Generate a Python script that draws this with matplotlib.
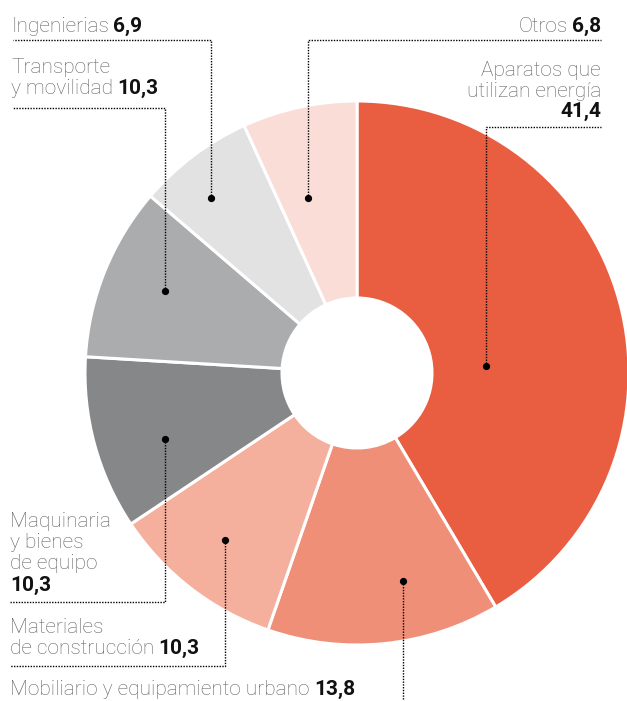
import matplotlib
matplotlib.use("Agg")
import matplotlib.pyplot as plt

# ---- data ----
categories = ["Aparatos que utilizan energía", "Mobiliario y equipamiento urbano",
              "Materiales de construcción", "Maquinaria y bienes de equipo",
              "Transporte y movilidad", "Ingenierias", "Otros"]
values = [41.4, 13.8, 10.3, 10.3, 10.3, 6.9, 6.8]
value_labels = ["41,4", "13,8", "10,3", "10,3", "10,3", "6,9", "6,8"]
colors = ["#E95E41", "#EF8F78", "#F4AF9D", "#868789", "#ABACAE", "#E1E2E1", "#FADDD6"]

W, H = 627, 701
fig = plt.figure(figsize=(W / 100, H / 100), dpi=100)
ax = fig.add_axes([0, 0, 1, 1])

def Y(y):
    return H - y

cx, cy, R, r_in = 357, 373, 272, 75
ax.pie(values, colors=colors, startangle=90, counterclock=False,
       radius=R, center=(cx, Y(cy)),
       wedgeprops=dict(width=R - r_in, edgecolor="white", linewidth=2.2))
ax.set_xlim(0, W)
ax.set_ylim(0, H)
ax.set_aspect("equal")
ax.axis("off")

FONT = "Roboto"
FS = 15
GRAY = "#616264"
BLACK = "#111111"

fig.canvas.draw()
renderer = fig.canvas.get_renderer()

def line_of(segments, x, y, align="left"):
    """segments: list of (text, bold). Draw on baseline y (pixel)."""
    objs = []
    for s, bold in segments:
        t = ax.text(0, Y(y), s, fontsize=FS, family=FONT,
                    fontweight="bold" if bold else "light",
                    color=BLACK if bold else GRAY, va="baseline", ha="left")
        objs.append(t)
    widths = [t.get_window_extent(renderer).width for t in objs]
    space = 4.5
    total = sum(widths) + space * (len(widths) - 1)
    start = x if align == "left" else x - total
    cur = start
    for t, w in zip(objs, widths):
        t.set_x(cur)
        cur += w + space

dot_kw = dict(color="#000000", linewidth=1.0, linestyle=(0, (1, 1)))

def leader(points):
    xs = [p[0] for p in points]
    ys = [Y(p[1]) for p in points]
    ax.plot(xs, ys, **dot_kw)
    ax.plot(xs[0], ys[0], "o", color="#000000", markersize=4.2)

# Ingenierias
line_of([("Ingenierias", False), (value_labels[5], True)], 11, 32)
leader([(211, 198), (211, 40), (13, 40)])

# Transporte
line_of([("Transporte", False)], 11, 73)
line_of([("y movilidad", False), (value_labels[4], True)], 11, 94)
leader([(165, 291), (165, 108), (13, 108)])

# Otros
line_of([("Otros", False), (value_labels[6], True)], 601, 32, align="right")
leader([(308, 198), (308, 40), (601, 40)])

# Aparatos
line_of([("Aparatos que", False)], 601, 76, align="right")
line_of([("utilizan energía", False)], 601, 97, align="right")
line_of([(value_labels[0], True)], 601, 117, align="right")
leader([(486, 366), (486, 127), (601, 127)])

# Maquinaria
line_of([("Maquinaria", False)], 10, 527)
line_of([("y bienes", False)], 10, 548)
line_of([("de equipo", False)], 10, 569)
line_of([(value_labels[3], True)], 10, 591)
leader([(165, 439), (165, 602), (10, 602)])

# Materiales
line_of([("Materiales", False)], 10, 633)
line_of([("de construcción", False), (value_labels[2], True)], 10, 654)
leader([(225, 540), (225, 666), (10, 666)])

# Mobiliario
line_of([("Mobiliario y equipamiento urbano", False), (value_labels[1], True)], 10, 695)
leader([(403, 581), (403, 701)])

fig.savefig("out.png", dpi=100)
